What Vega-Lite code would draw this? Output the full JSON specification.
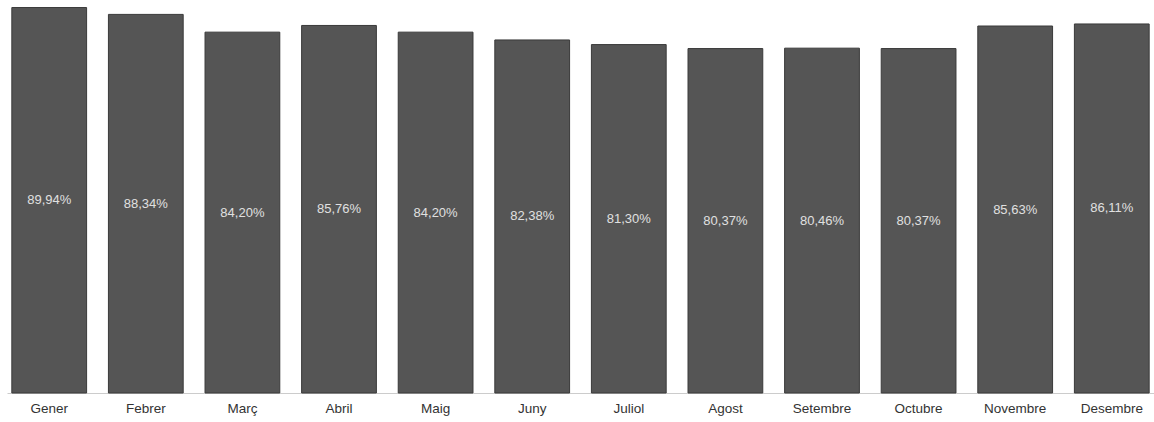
{
  "$schema": "https://vega.github.io/schema/vega-lite/v6.json",
  "autosize": {"type": "none"},
  "width": 1147,
  "height": 393,
  "padding": {"left": 7, "top": 0, "right": 0, "bottom": 29},
  "background": "#ffffff",
  "config": {
    "view": {"stroke": null},
    "locale": {"number": {"decimal": ",", "thousands": ".", "grouping": [3], "currency": ["", " €"]}}
  },
  "data": {
    "values": [
      {"mes": "Gener", "valor": 0.8994},
      {"mes": "Febrer", "valor": 0.8834},
      {"mes": "Març", "valor": 0.8420},
      {"mes": "Abril", "valor": 0.8576},
      {"mes": "Maig", "valor": 0.8420},
      {"mes": "Juny", "valor": 0.8238},
      {"mes": "Juliol", "valor": 0.8130},
      {"mes": "Agost", "valor": 0.8037},
      {"mes": "Setembre", "valor": 0.8046},
      {"mes": "Octubre", "valor": 0.8037},
      {"mes": "Novembre", "valor": 0.8563},
      {"mes": "Desembre", "valor": 0.8611}
    ]
  },
  "encoding": {
    "x": {
      "field": "mes",
      "type": "nominal",
      "sort": null,
      "scale": {"paddingInner": 0.226, "paddingOuter": 0.05},
      "axis": {
        "title": null,
        "labelAngle": 0,
        "labelFont": "Liberation Sans",
        "labelFontSize": 13.5,
        "labelColor": "#333333",
        "labelPadding": 8,
        "ticks": false,
        "domainColor": "#cccccc",
        "domainWidth": 1
      }
    }
  },
  "layer": [
    {
      "mark": {"type": "bar", "color": "#555555", "stroke": "#3a3a3a", "strokeWidth": 1},
      "encoding": {
        "y": {
          "field": "valor",
          "type": "quantitative",
          "scale": {"domain": [0, 0.917], "nice": false},
          "axis": null
        }
      }
    },
    {
      "mark": {"type": "text", "font": "Liberation Sans", "fontSize": 13, "color": "#e0e0e0", "baseline": "middle"},
      "encoding": {
        "y": {
          "field": "valor",
          "type": "quantitative",
          "scale": {"domain": [0, 1.834], "nice": false},
          "axis": null
        },
        "text": {"field": "valor", "type": "quantitative", "format": ".2%"}
      }
    }
  ],
  "resolve": {"scale": {"y": "independent"}}
}
